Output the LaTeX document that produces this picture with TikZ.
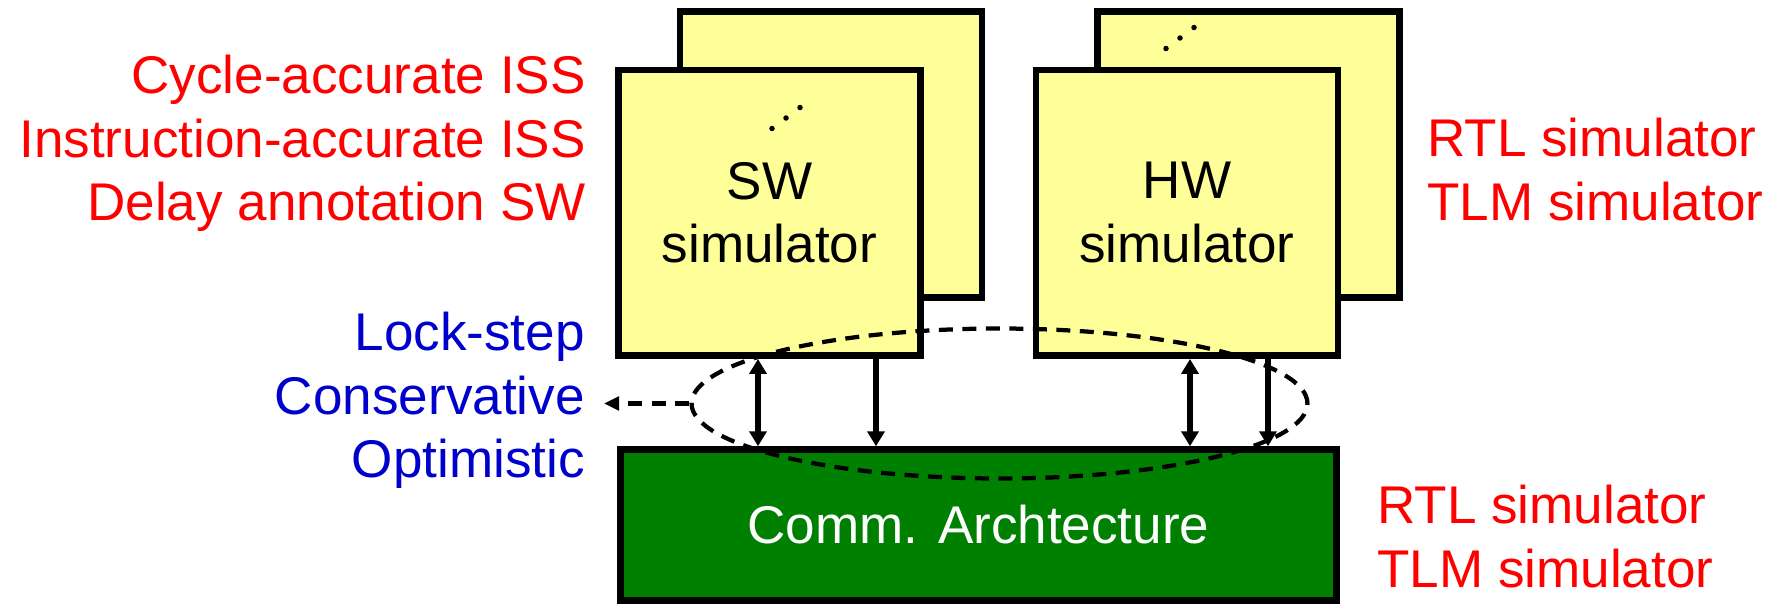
\documentclass[tikz,border=0pt]{standalone}
\usepackage{fontspec}
\setmainfont{Liberation Sans}
\usetikzlibrary{calc, shapes.geometric, arrows.meta, positioning}

\definecolor{simyellow}{RGB}{255,255,153}
\definecolor{commgreen}{RGB}{0,128,0}
\definecolor{algblue}{RGB}{0,0,204}
\newcommand{\diafont}{\fontsize{30.2}{36.3}\selectfont}

\begin{document}
\begin{tikzpicture}[x=0.02cm, y=-0.02cm,
	>={Triangle[length=0.3cm, width=0.34cm]},
	simbox/.style={rectangle, draw=black, line width=0.13cm, fill=simyellow, minimum width=6.04cm, minimum height=5.72cm, inner sep=0pt, align=center, font=\diafont},
	commbox/.style={rectangle, draw=black, line width=0.13cm, fill=commgreen, text=white, minimum width=14.32cm, minimum height=3.02cm, inner sep=0pt, font=\diafont},
	link/.style={line width=0.11cm, black},
	syncline/.style={line width=0.085cm, dash pattern=on 0.28cm off 0.19cm},
	tag/.style={inner sep=0pt, font=\diafont}]
		\useasboundingbox (0,0) rectangle (1781,605);
		% simulators, the copy behind first
		\foreach \kind/\x/\short in {
			sw/769.5/SW,
			hw/1187/HW
		 }{
			\node[simbox] (\kind0) at (\x+61.5,154.5) {};
			\node[simbox] (\kind) at (\x,212.75) {\short\\simulator};
		 }
		 \node[commbox] (comm) at (978.4,525) {Comm. Archtecture};
		 % more instances
		 \coordinate (swdots) at (786,118);
		 \coordinate (hwdots) at (1180,38);
		 \foreach \d in {swdots, hwdots}
		 {\foreach \i in {-1,0,1}
		 {\fill ($(\d)+(14*\i,-10.5*\i)$) circle (0.055cm);}}
		 % synchronisation
		 \node[ellipse, draw, syncline, minimum width=12.32cm, minimum height=3cm, inner sep=0pt] (sync) at (999.5,403.5) {};
		 \coordinate (syncend) at (604,403.5);
		 \draw[syncline, -{Triangle[length=0.3cm, width=0.27cm]}] (sync.west) -- (syncend);
		 \draw[link, <->] (758,0 |- sw.south) -- (758,0 |- comm.north);
		 \draw[link, ->] (876,0 |- sw.south) -- (876,0 |- comm.north);
		 \draw[link, <->] (1190,0 |- hw.south) -- (1190,0 |- comm.north);
		 \draw[link, ->] (1268,0 |- hw.south) -- (1268,0 |- comm.north);
		 % models
		 \node[tag, text=red, align=right, anchor=north east] (isslist) at (586,54.5) {Cycle-accurate ISS\\Instruction-accurate ISS\\Delay annotation SW};
		 \node[tag, text=algblue, align=right, anchor=north east] (synclist) at (585,311.5) {Lock-step\\Conservative\\Optimistic};
		 \node[tag, text=red, align=left, anchor=north west] (hwlist) at (1427,117.5) {RTL simulator\\TLM simulator};
		 \node[tag, text=red, align=left, anchor=north west] (commlist) at (1377,484.5) {RTL simulator\\TLM simulator};
\end{tikzpicture}
\end{document}
